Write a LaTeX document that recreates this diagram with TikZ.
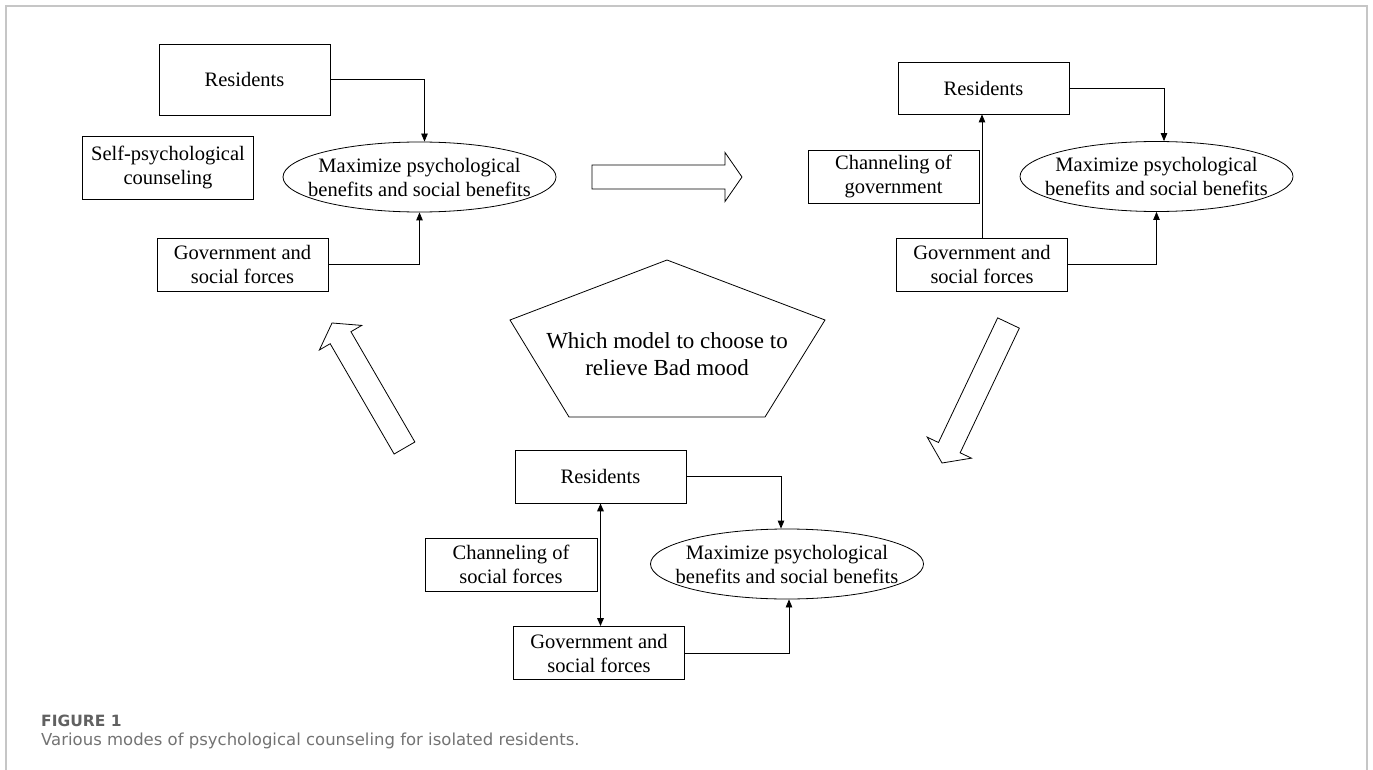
\documentclass[tikz,border=0pt]{standalone}
\usepackage{fontspec}
\setmainfont{Liberation Serif}
\newfontfamily\capfont{DejaVu Sans}
\usetikzlibrary{shapes.geometric,arrows.meta}

\begin{document}
\begin{tikzpicture}[x=1pt,y=-1pt,
    box/.style={draw,line width=.8pt,inner sep=0pt,minimum width=171pt,minimum height=53pt,
      align=center,font=\fontsize{20.5}{24}\selectfont},
    goal/.style={draw,ellipse,line width=.8pt,inner xsep=-20pt,inner ysep=0pt,
      minimum width=273pt,minimum height=70pt,align=center,font=\fontsize{20.5}{24}\selectfont},
    conn/.style={line width=.8pt,-{Triangle[length=8pt,width=6.5pt]}},
    blockarrow/.style={draw,line width=.8pt,line join=miter,fill=white}]
    \useasboundingbox (0,0) rectangle (1373,770);
    \draw[gray!45,line width=1.5pt] (6,770) -- (6,6) -- (1367,6) -- (1367,770);
    % mode 1: self counseling
    \node[box,minimum height=71pt] (res1) at (244.5,79.5) {Residents};
    \node[box,minimum height=63pt] (self1) at (168,167.5) {Self-psychological\\counseling};
    \node[box] (gov1) at (242.5,264.5) {Government and\\social forces};
    \node[goal] (goal1) at (419.5,177) {Maximize psychological\\benefits and social benefits};
    \draw[conn] (res1.east) -| ([xshift=5pt]goal1.north);
    \draw[conn] (gov1.east) -| (goal1.south);
    % mode 2: channeling of government
    \node[box,minimum height=52pt] (res2) at (983.5,88) {Residents};
    \node[box] (chan2) at (893.5,176.5) {Channeling of\\government};
    \node[box] (gov2) at (982,264.5) {Government and\\social forces};
    \node[goal] (goal2) at (1156.5,176.5) {Maximize psychological\\benefits and social benefits};
    \draw[conn] (res2.east) -| ([xshift=7.5pt]goal2.north);
    \draw[conn] (gov2.east) -| (goal2.south);
    \draw[conn] (gov2.north) -- (gov2.north |- res2.south);
    % mode 3: channeling of social forces
    \node[box] (res3) at (600.5,476.5) {Residents};
    \node[box,minimum width=172pt] (chan3) at (511,564.5) {Channeling of\\social forces};
    \node[box] (gov3) at (599,653) {Government and\\social forces};
    \node[goal] (goal3) at (787,564) {Maximize psychological\\benefits and social benefits};
    \draw[conn] (res3.east) -| ([xshift=-6pt]goal3.north);
    \draw[conn] (gov3.east) -| ([xshift=2pt]goal3.south);
    \draw[line width=1.6pt,{Triangle[length=8pt,width=6.5pt]}-{Triangle[length=8pt,width=6.5pt]}]
      (res3.south) -- (res3.south |- gov3.north);
    % centre question
    \draw[line width=.8pt,line join=miter] (667,260) -- (825,320) -- (765,417) -- (569,417) -- (510,320) -- cycle;
    \node[align=center,font=\fontsize{23}{27}\selectfont] (question) at (667,354)
      {Which model to choose to\\relieve Bad mood};
    % hollow arrows between the modes
    \foreach \x/\y/\a/\l in {592/177/0/150,404.5/448/120.1/144.5,1008.5/323/244.6/155}
      {\draw[blockarrow,shift={(\x,\y)},rotate=\a] (0,-12) -- ({\l-17},-12) -- ({\l-17},-24.5)
        -- (\l,0) -- ({\l-17},24.5) -- ({\l-17},12) -- (0,12) -- cycle;}
    % caption
    \node[anchor=base west,inner sep=0pt,text=black!62,font=\capfont\bfseries\fontsize{15.5}{17}\selectfont]
      (fignum) at (41,726) {FIGURE 1};
    \node[anchor=base west,inner sep=0pt,text=black!55,font=\capfont\fontsize{16.5}{20}\selectfont]
      (figcap) at (41,745) {Various modes of psychological counseling for isolated residents.};
\end{tikzpicture}
\end{document}
